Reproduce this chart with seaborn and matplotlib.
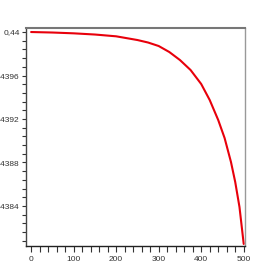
import matplotlib
matplotlib.use("Agg")
import matplotlib.pyplot as plt
import seaborn as sns
import pandas as pd
from matplotlib.ticker import MultipleLocator, FuncFormatter

sns.set_style("white")
plt.rcParams['font.family'] = ['Liberation Sans', 'DejaVu Sans']

# values
x_vals = [0, 50, 100, 150, 200, 250, 275, 300, 325, 350, 375, 400, 420, 440,
          455, 470, 480, 490, 500]
y_vals = [0.4400000, 0.4399954, 0.4399880, 0.4399770, 0.4399605, 0.4399264,
          0.4399035, 0.4398713, 0.4398161, 0.4397425, 0.4396506, 0.4395219,
          0.4393747, 0.4391908, 0.4390253, 0.4388046, 0.4386207, 0.4383908,
          0.4380506]
x_ticks = [0, 100, 200, 300, 400, 500]
y_ticks = [0.4384, 0.4388, 0.4392, 0.4396, 0.44]

df = pd.DataFrame({"x": x_vals, "y": y_vals})

fig = plt.figure(figsize=(2.73, 2.73), dpi=100)
ax = fig.add_axes([26/273, 27/273, 219/273, 218/273])
sns.lineplot(data=df, x="x", y="y", ax=ax, color="#e8000b", linewidth=1.5)

ax.set_xlim(-12, 503)
ax.set_ylim(0.438032, 0.440037)
ax.set_xticks(x_ticks)
ax.set_yticks(y_ticks)
ax.xaxis.set_minor_locator(MultipleLocator(20))
ax.yaxis.set_minor_locator(MultipleLocator(0.00008))
ax.yaxis.set_major_formatter(FuncFormatter(lambda v, p: ("%g" % round(v, 6)).replace(".", ",")))
ax.set_xlabel("")
ax.set_ylabel("")

ax.tick_params(axis="both", which="both", direction="out", length=3, width=0.8,
               color="#333333", labelsize=6, labelcolor="#333333", pad=1.5,
               left=True, bottom=True, right=False, top=False)
ax.tick_params(axis="x", which="both", length=4, pad=3)

ax.spines["top"].set_color("#777777")
ax.spines["top"].set_linewidth(1.5)
ax.spines["left"].set_color("#444444")
ax.spines["left"].set_linewidth(1.0)
ax.spines["right"].set_color("#999999")
ax.spines["right"].set_linewidth(1.0)
ax.spines["bottom"].set_color("#222222")
ax.spines["bottom"].set_linewidth(1.0)

fig.savefig("out.png", dpi=100)
